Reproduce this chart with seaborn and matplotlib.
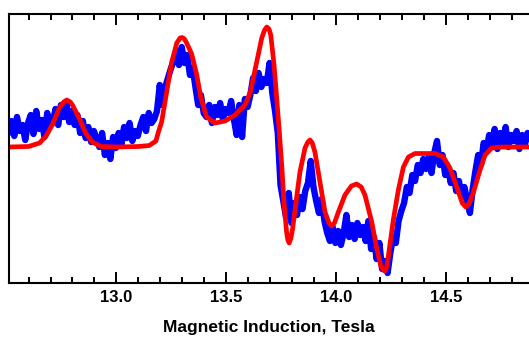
import numpy as np
import matplotlib
matplotlib.use("Agg")
import matplotlib.pyplot as plt
from matplotlib.ticker import MultipleLocator, FormatStrFormatter
import seaborn as sns

# Measured data (blue): sampled every 0.0125 T from 12.51 T
data_start = 12.51
data_step = 0.0125
data_signal = [
    150, 162, 147, 166, 152, 158, 143, 160,
    168, 149, 172, 154, 163, 146, 170, 157,
    160, 174, 158, 178, 166, 180, 161, 172,
    158, 168, 150, 162, 145, 156, 141, 152,
    144, 136, 150, 128, 140, 124, 146, 135,
    150, 138, 156, 145, 160, 142, 152, 147,
    158, 166, 152, 170, 160, 164, 172, 198,
    178, 196, 205, 214, 222, 232, 218, 236,
    220, 228, 208, 215, 196, 178, 188, 170,
    166, 178, 160, 176, 168, 180, 164, 174,
    170, 182, 164, 148, 178, 146, 184, 176,
    188, 205, 192, 210, 196, 204, 200, 220,
    190, 172, 150, 98, 82, 66, 90, 60,
    80, 68, 86, 74, 92, 100, 122, 96,
    82, 70, 84, 62, 50, 42, 56, 40,
    52, 38, 50, 68, 46, 58, 44, 60,
    48, 56, 42, 62, 34, 46, 24, 40,
    14, 22, 10, 30, 46, 40, 62, 72,
    80, 96, 90, 108, 102, 118, 110, 124,
    114, 126, 110, 130, 142, 118, 128, 108,
    116, 100, 110, 92, 102, 86, 96, 82,
    70, 94, 112, 128, 118, 140, 132, 148,
    138, 154, 134, 150, 140, 156, 136, 148,
    142, 152, 134, 148, 138, 150, 144,
]
data_field = [round(data_start + data_step * i, 4) for i in range(len(data_signal))]

# Fit curve (red)
fit_field = [
    12.51, 12.60, 12.65, 12.68, 12.71, 12.74, 12.76, 12.774, 12.79, 12.80, 12.83, 12.86, 12.89, 12.93,
    13.00, 13.10, 13.15, 13.18, 13.19, 13.206, 13.229, 13.252, 13.275, 13.29, 13.30, 13.31, 13.32,
    13.343, 13.366, 13.385, 13.411, 13.449, 13.495, 13.54, 13.586, 13.61, 13.639, 13.662, 13.675,
    13.685, 13.695, 13.703, 13.718, 13.730, 13.742, 13.753, 13.763, 13.775, 13.781, 13.787, 13.795,
    13.803, 13.818, 13.836, 13.859, 13.872, 13.882, 13.892, 13.904, 13.927, 13.950, 13.968, 13.980,
    13.993, 14.011, 14.041, 14.07, 14.094, 14.115, 14.132, 14.163, 14.185, 14.203, 14.214, 14.222,
    14.230, 14.238, 14.261, 14.284, 14.307, 14.330, 14.360, 14.451, 14.489, 14.519, 14.550, 14.575,
    14.591, 14.605, 14.625, 14.656, 14.679, 14.709, 14.755, 14.88,
]
fit_signal = [
    136, 136.5, 140, 147, 159, 175, 181, 183, 181, 178, 165, 150, 141, 136.5,
    136, 136.5, 137.5, 142, 150, 161, 191, 221, 240, 245, 245.5, 244, 240,
    229, 208, 185, 166, 160, 162, 168, 178, 191, 221, 245, 253,
    256, 254, 248, 218, 185, 151, 118, 81, 51, 43, 40, 45,
    55, 81, 111, 135, 141, 143, 140, 131, 101, 71, 60, 57,
    60, 71, 88, 97, 99, 96, 88, 61, 35, 18, 13, 12,
    15, 26, 63, 93, 116, 126, 129.5, 129.5, 126, 115, 96, 80,
    76, 79, 90, 113, 128, 135, 136, 136,
]

sns.set_theme(style="ticks")
plt.rcParams["font.family"] = ["Liberation Sans", "DejaVu Sans"]
plt.rcParams["text.color"] = "black"
plt.rcParams["axes.labelcolor"] = "black"
plt.rcParams["xtick.color"] = "black"

fig = plt.figure(figsize=(5.29, 3.38), dpi=100)
ax = fig.add_axes([9 / 529, 55 / 338, 1 - 9 / 529, 269 / 338])

sns.lineplot(x=data_field, y=data_signal, ax=ax, color="#0000ff", linewidth=4.6,
             estimator=None, sort=False, solid_joinstyle="round")
sns.lineplot(x=fit_field, y=fit_signal, ax=ax, color="#ff0000", linewidth=3.4,
             estimator=None, sort=False, solid_capstyle="round")

ax.set_xlim(12.511, 14.879)
ax.set_ylim(0, 269)

ax.xaxis.set_major_locator(MultipleLocator(0.5))
ax.xaxis.set_minor_locator(MultipleLocator(0.1))
ax.xaxis.set_major_formatter(FormatStrFormatter("%.1f"))
ax.tick_params(axis="x", which="major", direction="in", length=8, width=1.4,
               top=True, bottom=True, labelsize=12, pad=5, color="black",
               labelcolor="black")
ax.tick_params(axis="x", which="minor", direction="in", length=4.3, width=1.4,
               top=True, bottom=True, color="black")
for lab in ax.get_xticklabels():
    lab.set_fontweight("bold")
ax.set_yticks([])
ax.set_ylabel("")
ax.set_xlabel("Magnetic Induction, Tesla", fontsize=12.5, fontweight="bold",
              labelpad=11, color="black")

for side in ["left", "top", "bottom"]:
    ax.spines[side].set_linewidth(1.5)
    ax.spines[side].set_color("black")
    ax.spines[side].set_visible(True)
ax.spines["right"].set_visible(False)

fig.savefig("out.png", dpi=100)
